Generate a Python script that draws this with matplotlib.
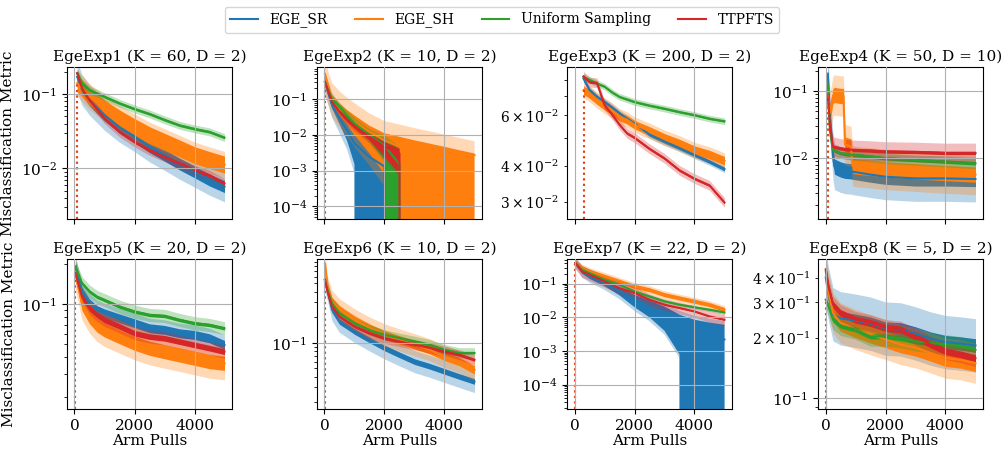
import matplotlib
matplotlib.use("Agg")
import matplotlib.pyplot as plt
import numpy as np

plt.rcParams['font.family'] = ['DejaVu Serif']
plt.rcParams['font.size'] = 10

methods = ['EGE_SR', 'EGE_SH', 'Uniform Sampling', 'TTPFTS']
colors = ['#1f77b4', '#ff7f0e', '#2ca02c', '#d62728']
titles = ['EgeExp1 (K = 60, D = 2)', 'EgeExp2 (K = 10, D = 2)',
          'EgeExp3 (K = 200, D = 2)', 'EgeExp4 (K = 50, D = 10)',
          'EgeExp5 (K = 20, D = 2)', 'EgeExp6 (K = 10, D = 2)',
          'EgeExp7 (K = 22, D = 2)', 'EgeExp8 (K = 5, D = 2)']
init_pulls = [90, 15, 300, 75, 30, 15, 33, 8]
xticks = [0, 2000, 4000]

# ---- EgeExp1 ----
e1_x = [90, 250, 500, 1000, 1500, 2000, 2500, 3000, 3500, 4000, 4500, 5000]
e1_sr = [0.17, 0.113, 0.083, 0.052, 0.036, 0.027, 0.0196, 0.0151, 0.0115, 0.009, 0.007, 0.0057]
e1_sh = [0.14, 0.119, 0.092, 0.064, 0.047, 0.036, 0.028, 0.0228, 0.0186, 0.0151, 0.013, 0.0113]
e1_us = [0.19, 0.139, 0.113, 0.092, 0.075, 0.063, 0.054, 0.045, 0.038, 0.034, 0.031, 0.026]
e1_tt = [0.19, 0.119, 0.083, 0.047, 0.031, 0.0228, 0.0176, 0.0144, 0.0117, 0.0095, 0.0081, 0.0063]
e1_noise = [1.2, 1.3, 1.04, 1.05]
e1_band = [1.6, 1.5, 1.13, 1.17]
e1_ylim = [0.0021, 0.23]

# ---- EgeExp2 ----
e2_x = [15, 250, 500, 750, 1000, 1500, 2000, 2500, 3000, 3500, 4000, 4500, 5000]
e2_sr = [0.3, 0.068, 0.029, 0.0135, 0.0057, 0.0024, 0.0013, 0, 0, 0, 0, 0, 0]
e2_sr_lo = [0.28, 0.055, 0.02, 0.007, 0.0015, 0, 0, 0, 0, 0, 0, 0, 0]
e2_sr_hi = [0.33, 0.085, 0.04, 0.02, 0.01, 0.005, 0.003, 0, 0, 0, 0, 0, 0]
e2_sh = [0.5, 0.1, 0.055, 0.036, 0.023, 0.012, 0.007, 0.0046, 0.0037, 0.003, 0.003, 0.0028, 0.0027]
e2_sh_lo = [0.3, 0.07, 0.035, 0.02, 0.01, 0.003, 0.0008, 0, 0, 0, 0, 0, 0]
e2_sh_hi = [0.55, 0.13, 0.075, 0.05, 0.035, 0.018, 0.011, 0.0088, 0.007, 0.0057, 0.0046, 0.0037, 0.003]
e2_us = [0.3, 0.1, 0.06, 0.035, 0.021, 0.0098, 0.005, 0.0015, 0, 0, 0, 0, 0]
e2_us_lo = [0.28, 0.09, 0.052, 0.03, 0.018, 0.007, 0.002, 0, 0, 0, 0, 0, 0]
e2_us_hi = [0.32, 0.11, 0.068, 0.04, 0.025, 0.012, 0.008, 0.004, 0, 0, 0, 0, 0]
e2_tt = [0.3, 0.084, 0.044, 0.026, 0.017, 0.0088, 0.0046, 0.003, 0, 0, 0, 0, 0]
e2_tt_lo = [0.28, 0.075, 0.04, 0.023, 0.015, 0.007, 0.0025, 0.0008, 0, 0, 0, 0, 0]
e2_tt_hi = [0.32, 0.095, 0.05, 0.03, 0.02, 0.011, 0.006, 0.004, 0, 0, 0, 0, 0]
e2_band = [1.8, 2.2, 1.2, 1.2]
e2_ylim = [4.4e-5, 0.79]

# ---- EgeExp3 ----
e3_x = [300, 500, 750, 1000, 1250, 1500, 1750, 2000, 2500, 3000, 3500, 4000, 4500, 5000]
e3_sr = [0.0807, 0.0736, 0.0697, 0.0669, 0.064, 0.061, 0.0585, 0.0563, 0.0515, 0.0487, 0.0462, 0.0437, 0.0414, 0.039]
e3_sh = [0.0736, 0.0713, 0.0679, 0.0649, 0.0625, 0.0595, 0.058, 0.0557, 0.053, 0.0501, 0.0479, 0.0454, 0.0438, 0.0417]
e3_us = [0.0818, 0.0799, 0.0776, 0.0757, 0.0723, 0.0697, 0.0683, 0.0669, 0.065, 0.0634, 0.0617, 0.0602, 0.0585, 0.0573]
e3_tt = [0.0822, 0.0785, 0.078, 0.0653, 0.0605, 0.0557, 0.052, 0.0502, 0.0459, 0.0425, 0.0386, 0.0361, 0.0342, 0.0298]
e3_noise = [1.015, 1.035, 1.008, 1.01]
e3_band = [1.03, 1.065, 1.027, 1.04]
e3_ylim = [0.0261, 0.0886]

# ---- EgeExp4 ----
e4_x = [75, 150, 250, 300, 500, 600, 650, 850, 900, 1000, 1500, 2000, 3000, 4000, 5000]
e4_sr = [0.183, 0.04, 0.0105, 0.0075, 0.0068, 0.0066, 0.0065, 0.0064, 0.0063, 0.0062, 0.0057, 0.0053, 0.005, 0.005, 0.0049]
e4_sh = [0.087, 0.047, 0.085, 0.088, 0.085, 0.085, 0.016, 0.015, 0.0078, 0.0075, 0.0072, 0.0068, 0.0064, 0.006, 0.0057]
e4_us = [0.13, 0.025, 0.0133, 0.013, 0.0119, 0.0117, 0.0116, 0.0113, 0.0112, 0.0112, 0.0106, 0.01, 0.0094, 0.0089, 0.0084]
e4_tt = [0.087, 0.03, 0.0149, 0.0147, 0.014, 0.0138, 0.0137, 0.0134, 0.0133, 0.0133, 0.013, 0.0126, 0.0124, 0.012, 0.012]
e4_noise = [1.3, 1.3, 1.06, 1.06]
e4_band = [2.2, 2.0, 1.2, 1.4]
e4_ylim = [0.00124, 0.23]

# ---- EgeExp5 ----
e5_x = [30, 250, 500, 750, 1000, 1500, 2000, 2500, 3000, 3500, 4000, 4500, 5000]
e5_sr = [0.19, 0.124, 0.101, 0.09, 0.085, 0.078, 0.0718, 0.0658, 0.064, 0.0604, 0.0587, 0.0554, 0.0494]
e5_sh = [0.17, 0.101, 0.0804, 0.0697, 0.064, 0.057, 0.0509, 0.0467, 0.044, 0.0416, 0.0393, 0.0371, 0.036]
e5_us = [0.19, 0.143, 0.124, 0.113, 0.107, 0.0955, 0.0877, 0.0828, 0.0814, 0.076, 0.0718, 0.0697, 0.0658]
e5_tt = [0.17, 0.113, 0.093, 0.083, 0.076, 0.068, 0.0604, 0.057, 0.0554, 0.0523, 0.0494, 0.0467, 0.044]
e5_noise = [1.08, 1.13, 1.03, 1.05]
e5_band = [1.19, 1.33, 1.12, 1.12]
e5_ylim = [0.0164, 0.217]

# ---- EgeExp6 ----
e6_x = [15, 100, 250, 500, 750, 1000, 1500, 2000, 2500, 3000, 3500, 4000, 4500, 5000]
e6_sr = [0.55, 0.42, 0.245, 0.178, 0.156, 0.136, 0.108, 0.087, 0.072, 0.06, 0.053, 0.046, 0.04, 0.035]
e6_sh = [0.85, 0.45, 0.306, 0.245, 0.213, 0.186, 0.149, 0.124, 0.108, 0.095, 0.083, 0.069, 0.06, 0.048]
e6_us = [0.55, 0.42, 0.293, 0.223, 0.195, 0.17, 0.142, 0.124, 0.113, 0.104, 0.095, 0.083, 0.076, 0.076]
e6_tt = [0.55, 0.4, 0.268, 0.204, 0.178, 0.156, 0.13, 0.113, 0.104, 0.095, 0.087, 0.079, 0.072, 0.063]
e6_noise = [1.08, 1.12, 1.03, 1.04]
e6_band = [1.35, 1.35, 1.15, 1.15]
e6_ylim = [0.0166, 0.97]

# ---- EgeExp7 ----
e7_x = [33, 250, 500, 1000, 1500, 2000, 2500, 3000, 3500, 4000, 4500, 5000]
e7_sr = [0.41, 0.23, 0.165, 0.104, 0.059, 0.0335, 0.021, 0.012, 0.0068, 0.0043, 0.0027, 0.0022]
e7_sr_lo = [0.39, 0.2, 0.14, 0.085, 0.045, 0.02, 0.01, 0.004, 0.0008, 0, 0, 0]
e7_sr_hi = [0.43, 0.26, 0.19, 0.12, 0.075, 0.047, 0.032, 0.021, 0.012, 0.0085, 0.007, 0.006]
e7_sh = [0.41, 0.29, 0.23, 0.165, 0.117, 0.083, 0.066, 0.047, 0.0375, 0.03, 0.0238, 0.017]
e7_us = [0.41, 0.26, 0.207, 0.13, 0.093, 0.059, 0.042, 0.03, 0.0238, 0.02, 0.0169, 0.014]
e7_tt = [0.41, 0.23, 0.185, 0.117, 0.074, 0.053, 0.0335, 0.0238, 0.019, 0.015, 0.0107, 0.0085]
e7_noise = [1.15, 1.15, 1.03, 1.04]
e7_band = [1.3, 1.3, 1.12, 1.5]
e7_ylim = [1.9e-5, 0.54]

# ---- EgeExp8 ----
e8_x = [8, 100, 250, 500, 1000, 1500, 2000, 2500, 3000, 3500, 4000, 4500, 5000]
e8_sr = [0.4, 0.33, 0.262, 0.25, 0.243, 0.235, 0.222, 0.22, 0.21, 0.198, 0.19, 0.187, 0.183]
e8_sh = [0.43, 0.335, 0.266, 0.237, 0.22, 0.207, 0.196, 0.185, 0.178, 0.168, 0.158, 0.155, 0.149]
e8_us = [0.31, 0.287, 0.246, 0.23, 0.22, 0.203, 0.203, 0.199, 0.192, 0.188, 0.185, 0.181, 0.174]
e8_tt = [0.44, 0.36, 0.293, 0.266, 0.246, 0.237, 0.224, 0.22, 0.203, 0.185, 0.171, 0.165, 0.158]
e8_noise = [1.08, 1.1, 1.03, 1.04]
e8_band = [1.36, 1.26, 1.12, 1.1]
e8_ylim = [0.088, 0.495]

panels = [
    (e1_x, [e1_sr, e1_sh, e1_us, e1_tt], e1_noise, e1_band, e1_ylim, {}),
    (e2_x, [e2_sr, e2_sh, e2_us, e2_tt], [1, 1, 1, 1], e2_band, e2_ylim,
     {0: (e2_sr_lo, e2_sr_hi), 1: (e2_sh_lo, e2_sh_hi),
      2: (e2_us_lo, e2_us_hi), 3: (e2_tt_lo, e2_tt_hi)}),
    (e3_x, [e3_sr, e3_sh, e3_us, e3_tt], e3_noise, e3_band, e3_ylim, {}),
    (e4_x, [e4_sr, e4_sh, e4_us, e4_tt], e4_noise, e4_band, e4_ylim, {}),
    (e5_x, [e5_sr, e5_sh, e5_us, e5_tt], e5_noise, e5_band, e5_ylim, {}),
    (e6_x, [e6_sr, e6_sh, e6_us, e6_tt], e6_noise, e6_band, e6_ylim, {}),
    (e7_x, [e7_sr, e7_sh, e7_us, e7_tt], e7_noise, e7_band, e7_ylim,
     {0: (e7_sr_lo, e7_sr_hi)}),
    (e8_x, [e8_sr, e8_sh, e8_us, e8_tt], e8_noise, e8_band, e8_ylim, {}),
]

fig = plt.figure(figsize=(10.04, 4.54), dpi=100)
W, H = 1004.0, 454.0
lefts = [67, 317, 567, 818]
rows = [(67, 219), (259, 409)]

handles = []
for i, (x, series, noise, band, ylim, env) in enumerate(panels):
    r, c = divmod(i, 4)
    top, bot = rows[r]
    ax = fig.add_axes([lefts[c] / W, 1 - bot / H, 165 / W, (bot - top) / H])
    ax.set_yscale('log')
    xa = np.array(x, dtype=float)
    for k, (vals, col) in enumerate(zip(series, colors)):
        m = np.array(vals, dtype=float)
        if k in env:
            lo = np.array(env[k][0], dtype=float)
            hi = np.array(env[k][1], dtype=float)
            blo, bhi = lo / band[k], hi * band[k]
        else:
            lo = m / noise[k]
            hi = m * noise[k]
            blo, bhi = m / band[k], m * band[k]
        ax.fill_between(xa, blo, bhi, color=col, alpha=0.3, lw=0)
        if k in env or noise[k] > 1.0:
            ax.fill_between(xa, lo, hi, color=col, alpha=1.0, lw=0)
        h, = ax.plot(xa, m, color=col, lw=1.5, label=methods[k])
        if i == 0:
            handles.append(h)
    starts = min(s[0] for s in series)
    ax.vlines(init_pulls[i], ylim[0], starts, colors=colors[1], linestyles=':', lw=1.5)
    ax.vlines(init_pulls[i], ylim[0], starts, colors=colors[3], linestyles=':', lw=1.5, alpha=0.7)
    ax.set_xlim(-250, 5250)
    ax.set_ylim(ylim)
    ax.set_xticks(xticks)
    ax.grid(True, which='major', color='#b0b0b0', lw=0.8)
    ax.set_axisbelow(False)
    ax.set_title(titles[i], fontsize=11, pad=4)
    ax.tick_params(labelsize=11)
    if r == 0:
        ax.set_xticklabels([])
    else:
        ax.set_xlabel('Arm Pulls', fontsize=11, labelpad=1)
    if c == 0:
        ax.set_ylabel('Misclassification Metric', fontsize=11)

fig.legend(handles, methods, loc='upper center', bbox_to_anchor=(0.5, 1.0),
           ncol=4, fontsize=10, frameon=True)
fig.savefig('out.png', dpi=100)
